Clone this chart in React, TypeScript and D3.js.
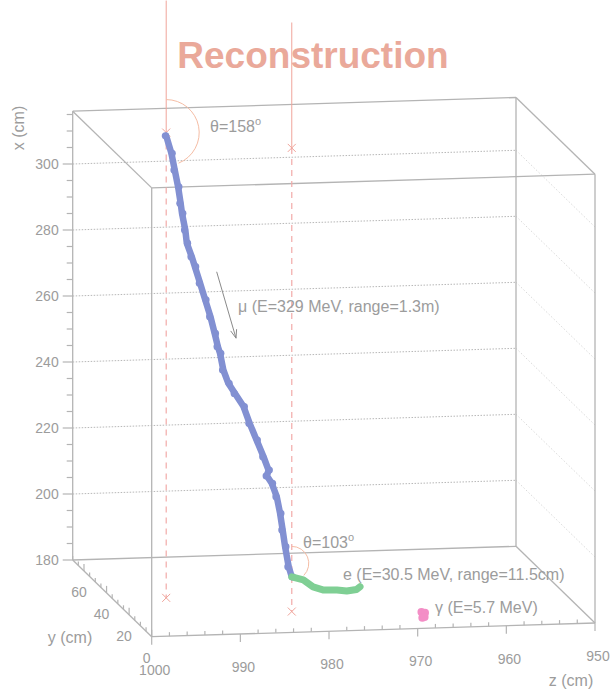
import React from "react";
import * as d3 from "d3";

// ---------- data (cm) ----------
const Z_TICKS = [1000, 990, 980, 970, 960, 950];
const X_TICKS = [180, 200, 220, 240, 260, 280, 300];
const Y_TICKS = [0, 20, 40, 60];
const Z_RANGE = [1000, 950];
const Y_RANGE = [0, 70];
const X_RANGE = [180, 316];

// muon track (z, y, x)
const muonZ = [992.0, 991.5, 991.2, 990.9, 990.7, 990.6, 990.3, 990.2, 989.7, 989.4, 988.9, 988.4, 987.9, 987.5, 987.2, 987.0, 986.7, 986.2, 985.5, 984.6, 984.0, 983.3, 982.6, 982.1, 982.3, 981.8, 981.3, 981.0, 980.8, 980.6, 980.3, 980.0];
const muonY = [50.0, 49.3, 48.7, 48.1, 47.4, 47.0, 46.4, 45.9, 45.4, 45.0, 44.3, 43.7, 43.0, 42.4, 41.9, 41.6, 41.0, 40.5, 40.1, 39.6, 38.9, 38.3, 37.6, 37.1, 36.9, 36.6, 36.1, 35.5, 34.8, 34.2, 33.4, 33.0];
const muonX = [314.5, 309.4, 304.5, 299.6, 294.8, 291.9, 287.0, 283.2, 279.2, 276.3, 271.5, 266.6, 261.7, 256.8, 252.9, 251.0, 246.1, 242.2, 239.2, 235.3, 230.4, 225.5, 220.6, 216.7, 215.0, 212.8, 208.9, 204.0, 199.2, 194.3, 188.5, 185.5];

// electron track
const elecZ = [980.0, 978.7, 977.6, 976.4, 974.9, 973.8, 972.7, 972.3];
const elecY = [33, 33, 33, 33, 33, 33, 33, 33];
const elecX = [185.5, 184.5, 182.3, 181.2, 181.1, 180.7, 181.1, 181.9];

// gamma hits
const gamZ = [968.1, 968.3, 967.9, 968.2, 967.95];
const gamY = [10, 10, 10, 10, 10];
const gamX = [180.6, 181.5, 181.3, 179.8, 180.0];

// wire / reference lines (z, y) and x extents
const refZ = [992, 980];
const refY = [50, 33];
const refXTop = [355.5, 353.5];
const refXMark = 315.5;
const refXLow = [174.5, 175];

// angle annotations
const angleCenterZ = [992, 980];
const angleCenterY = [50, 33];
const angleCenterX = [315.5, 189.6];
const angleSpan = [158, 135];
const angleLabels = ["158", "103"];

// muon direction arrow
const arrowZ = [987.07, 984.89];
const arrowY = [44, 44];
const arrowX = [274.9, 254.6];

// ---------- projection ----------
const ORIGIN_X = 151.7;
const zToX = d3.scaleLinear().domain(Z_RANGE).range([0, 443.3]);
const zToY = d3.scaleLinear().domain(Z_RANGE).range([0, -13.7]);
const yToX = d3.scaleLinear().domain(Y_RANGE).range([0, -79]);
const yToY = d3.scaleLinear().domain(Y_RANGE).range([0, -76.7]);
const xToY = d3.scaleLinear().domain(X_RANGE).range([636.7, 636.7 - 448.8]);

function P(z: number, y: number, x: number): [number, number] {
  return [ORIGIN_X + zToX(z) + yToX(y), xToY(x) + zToY(z) + yToY(y)];
}

const FONT = "'Liberation Sans', Arial, Helvetica, sans-serif";
const TXT = "#9c9c9c";
const BOX = "#b4b4b4";
const GRID = "#b8b8b8";
const RED = "#f0a49a";
const ARC = "#f5bda5";
const MUON = "#8290d2";

function seg(a: [number, number], b: [number, number], props: any, key: any) {
  return <line key={key} x1={a[0]} y1={a[1]} x2={b[0]} y2={b[1]} {...props} />;
}

export default function App() {
  const [z0, z1] = Z_RANGE;
  const [y0, y1] = Y_RANGE;
  const [x0, x1] = X_RANGE;

  const line = d3.line<[number, number]>().curve(d3.curveLinear);
  const muonPts = muonZ.map((z, i) => P(z, muonY[i], muonX[i]));
  const elecPts = elecZ.map((z, i) => P(z, elecY[i], elecX[i]));
  const gamPts = gamZ.map((z, i) => P(z, gamY[i], gamX[i]));

  const edges: [[number, number, number], [number, number, number]][] = [
    [[z0, y1, x0], [z0, y1, x1]], [[z0, y1, x1], [z1, y1, x1]], [[z1, y1, x1], [z1, y1, x0]], [[z1, y1, x0], [z0, y1, x0]],
    [[z0, y0, x0], [z0, y0, x1]], [[z0, y0, x1], [z1, y0, x1]], [[z1, y0, x1], [z1, y0, x0]], [[z1, y0, x0], [z0, y0, x0]],
    [[z0, y1, x1], [z0, y0, x1]], [[z1, y1, x1], [z1, y0, x1]], [[z1, y1, x0], [z1, y0, x0]], [[z0, y1, x0], [z0, y0, x0]],
  ];

  const xMinor = d3.range(180, 316, 5);
  const zMinor = d3.range(1000, 949, -2);
  const yMinor = d3.range(0, 71, 5);

  const arrA = P(arrowZ[0], arrowY[0], arrowX[0]);
  const arrB = P(arrowZ[1], arrowY[1], arrowX[1]);
  const ang = Math.atan2(arrB[1] - arrA[1], arrB[0] - arrA[0]);
  const ah = 9;
  const h1: [number, number] = [arrB[0] - ah * Math.cos(ang - 0.35), arrB[1] - ah * Math.sin(ang - 0.35)];
  const h2: [number, number] = [arrB[0] - ah * Math.cos(ang + 0.35), arrB[1] - ah * Math.sin(ang + 0.35)];

  const arcPath = (i: number, r: number) => {
    const c = P(angleCenterZ[i], angleCenterY[i], angleCenterX[i]);
    const p = d3.path();
    p.arc(c[0], c[1], r, -Math.PI / 2, -Math.PI / 2 + (angleSpan[i] * Math.PI) / 180);
    return p.toString();
  };

  return (
    <svg width={612} height={691} style={{ position: "absolute", left: 0, top: 0, background: "#fff" }} fontFamily={FONT}>
      {/* grid on back face and right face */}
      {X_TICKS.filter((t) => t > x0).map((t, i) => (
        <g key={"g" + i}>
          {seg(P(z0, y1, t), P(z1, y1, t), { stroke: GRID, strokeWidth: 1, strokeDasharray: "1.5,1.5" }, "b")}
          {seg(P(z1, y1, t), P(z1, y0, t), { stroke: "#cfcfcf", strokeWidth: 0.8, strokeDasharray: "1.5,2" }, "r")}
        </g>
      ))}

      {/* box */}
      {edges.map((e, i) => seg(P(...e[0]), P(...e[1]), { stroke: BOX, strokeWidth: 1.3 }, "e" + i))}

      {/* x axis ticks (back-left edge) */}
      {xMinor.map((t) => {
        const p = P(z0, y1, t);
        const major = X_TICKS.includes(t);
        return seg([p[0] - (major ? 10 : 6), p[1]], p, { stroke: BOX, strokeWidth: 1.2 }, "xt" + t);
      })}
      {X_TICKS.map((t) => {
        const p = P(z0, y1, t);
        return (
          <text key={"xl" + t} x={p[0] - 14} y={p[1] + 5} textAnchor="end" fontSize={14} fill={TXT}>
            {t}
          </text>
        );
      })}
      <text transform="translate(24,128) rotate(-90)" textAnchor="middle" fontSize={16} fill={TXT}>
        x (cm)
      </text>

      {/* y axis ticks */}
      {yMinor.map((t) => {
        const p = P(z0, t, x0);
        const major = Y_TICKS.includes(t);
        return seg(p, [p[0], p[1] - (major ? 7 : 4)], { stroke: BOX, strokeWidth: 1.2 }, "yt" + t);
      })}
      {Y_TICKS.map((t) => {
        const p = P(z0, t, x0);
        return (
          <text key={"yl" + t} x={p[0] - 5} y={p[1] + 26} textAnchor="middle" fontSize={14} fill={TXT}>
            {t}
          </text>
        );
      })}
      <text x={70} y={643} textAnchor="middle" fontSize={16} fill={TXT}>
        y (cm)
      </text>

      {/* z axis ticks */}
      {zMinor.map((t) => {
        const p = P(t, y0, x0);
        const major = Z_TICKS.includes(t);
        return major
          ? seg(p, [p[0], p[1] + 8], { stroke: BOX, strokeWidth: 1.2 }, "zt" + t)
          : seg(p, [p[0], p[1] - 4], { stroke: BOX, strokeWidth: 1.2 }, "zt" + t);
      })}
      {Z_TICKS.map((t) => {
        const p = P(t, y0, x0);
        return (
          <text key={"zl" + t} x={p[0] + 3} y={p[1] + 38} textAnchor="middle" fontSize={14} fill={TXT}>
            {t}
          </text>
        );
      })}
      <text x={571} y={686} textAnchor="middle" fontSize={16} fill={TXT}>
        z (cm)
      </text>

      {/* reference lines */}
      {refZ.map((z, i) => {
        const top = P(z, refY[i], refXTop[i]);
        const mk = P(z, refY[i], refXMark);
        const lo = P(z, refY[i], refXLow[i]);
        const cross = (c: [number, number], k: string) => (
          <g key={k}>
            {seg([c[0] - 4, c[1] - 4], [c[0] + 4, c[1] + 4], { stroke: RED, strokeWidth: 1 }, "a")}
            {seg([c[0] - 4, c[1] + 4], [c[0] + 4, c[1] - 4], { stroke: RED, strokeWidth: 1 }, "b")}
          </g>
        );
        return (
          <g key={"ref" + i}>
            {seg(top, mk, { stroke: RED, strokeWidth: 1 }, "s")}
            {seg(mk, lo, { stroke: "#f2aaa8", strokeWidth: 1.2, strokeDasharray: "6,5" }, "d")}
            {cross(mk, "c1")}
            {cross(lo, "c2")}
          </g>
        );
      })}

      {/* angle arcs */}
      <path d={arcPath(0, 33)} fill="none" stroke={ARC} strokeWidth={1} />
      <path d={arcPath(1, 17)} fill="none" stroke={ARC} strokeWidth={1} />

      {/* tracks */}
      <path d={line(muonPts) || ""} fill="none" stroke={MUON} strokeWidth={6.5} strokeLinecap="round" strokeLinejoin="round" />
      {muonPts.map((p, i) => (
        <circle key={"mp" + i} cx={p[0] + (i % 2 ? 0.8 : -0.8)} cy={p[1]} r={3.6} fill={MUON} />
      ))}
      <path d={line(elecPts) || ""} fill="none" stroke="#7fcf94" strokeWidth={7} strokeLinecap="round" strokeLinejoin="round" />
      {gamPts.map((p, i) => (
        <circle key={"gp" + i} cx={p[0]} cy={p[1]} r={4} fill="#f38ec6" />
      ))}

      {/* muon arrow */}
      {seg(arrA, arrB, { stroke: "#8a8a8a", strokeWidth: 1 }, "arr")}
      <polyline points={`${h1[0]},${h1[1]} ${arrB[0]},${arrB[1]} ${h2[0]},${h2[1]}`} fill="none" stroke="#8a8a8a" strokeWidth={1} />

      {/* labels */}
      <text x={210} y={132} fontSize={16} fill={TXT}>
        θ={angleLabels[0]}
        <tspan dy={-7} fontSize={11}>o</tspan>
      </text>
      <text x={303} y={548} fontSize={16} fill={TXT}>
        θ={angleLabels[1]}
        <tspan dy={-7} fontSize={11}>o</tspan>
      </text>
      <text x={238} y={312} fontSize={16} fill={TXT}>
        μ (E=329 MeV, range=1.3m)
      </text>
      <text x={343} y={580} fontSize={16} fill={TXT}>
        e (E=30.5 MeV, range=11.5cm)
      </text>
      <text x={435} y={613} fontSize={16} fill={TXT}>
        γ (E=5.7 MeV)
      </text>

      {/* title */}
      <text x={313} y={68} textAnchor="middle" fontSize={37} fontWeight="bold" fill="#eaa99a">
        Reconstruction
      </text>
    </svg>
  );
}
